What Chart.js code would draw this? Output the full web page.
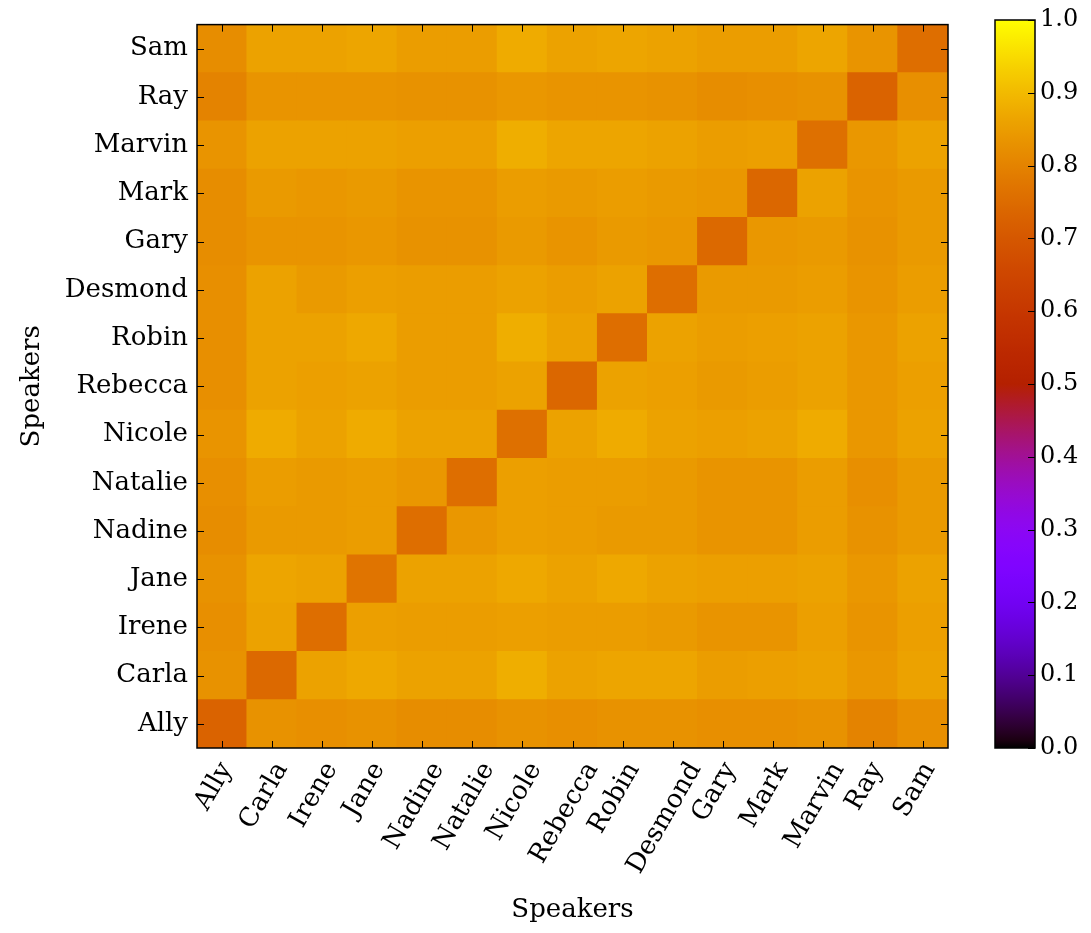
<!DOCTYPE html>
<html>
<head>
<meta charset="utf-8">
<script src="https://cdn.jsdelivr.net/npm/chart.js@4"></script>
<style>
  body { margin: 0; background: #fff; overflow: hidden; }
  #wrap { position: relative; width: 1091px; height: 933px; }
  canvas { position: absolute; top: 0; }
</style>
</head>
<body>
<div id="wrap">
  <canvas id="heat" width="1091" height="933" style="left:0"></canvas>
  <canvas id="cbar" width="141" height="933" style="left:950px"></canvas>
</div>
<script>
// speakers, same order on both axes (Ally at bottom / left)
const speakers = ["Ally", "Carla", "Irene", "Jane", "Nadine", "Natalie", "Nicole",
  "Rebecca", "Robin", "Desmond", "Gary", "Mark", "Marvin", "Ray", "Sam"];

// similarity values, one row per speaker (row 0 = Ally, bottom of the plot)
const values = [
  [.73, .83, .825, .83, .82, .82, .83, .825, .83, .83, .825, .825, .83, .80, .825],   // Ally
  [.83, .745, .86, .87, .86, .86, .88, .86, .865, .865, .85, .855, .86, .84, .86],    // Carla
  [.825, .86, .755, .855, .85, .85, .855, .85, .85, .845, .835, .835, .855, .835, .855], // Irene
  [.83, .865, .86, .77, .86, .86, .87, .86, .87, .86, .855, .855, .86, .84, .86],     // Jane
  [.82, .845, .845, .85, .755, .84, .855, .85, .845, .845, .835, .835, .85, .83, .845], // Nadine
  [.825, .85, .845, .85, .84, .755, .855, .85, .85, .845, .835, .835, .85, .825, .845], // Natalie
  [.835, .875, .86, .875, .86, .86, .76, .86, .875, .86, .855, .86, .875, .84, .86],  // Nicole
  [.825, .86, .855, .86, .85, .85, .86, .74, .86, .855, .845, .85, .86, .84, .855],   // Rebecca
  [.825, .86, .86, .87, .85, .85, .88, .86, .755, .86, .85, .855, .86, .84, .86],     // Robin
  [.825, .86, .845, .855, .85, .85, .86, .85, .86, .755, .845, .845, .85, .835, .85], // Desmond
  [.82, .835, .835, .84, .83, .83, .845, .835, .845, .84, .745, .84, .845, .83, .845], // Gary
  [.82, .845, .84, .845, .835, .835, .85, .845, .85, .845, .84, .74, .86, .835, .845], // Mark
  [.835, .86, .86, .86, .855, .855, .88, .865, .865, .86, .85, .855, .76, .84, .86],  // Marvin
  [.80, .835, .835, .835, .83, .83, .84, .835, .835, .83, .82, .825, .83, .73, .825], // Ray
  [.82, .86, .86, .865, .85, .85, .875, .86, .865, .86, .85, .85, .865, .835, .755]   // Sam
];

const cbarTicks = [0, 0.1, 0.2, 0.3, 0.4, 0.5, 0.6, 0.7, 0.8, 0.9, 1.0];

const FONT = "'DejaVu Serif', serif";
const FS = 26;

// matplotlib "gnuplot" colormap
function gnuplot(v) {
  const r = Math.sqrt(v), g = v * v * v, b = Math.max(0, Math.sin(2 * Math.PI * v));
  return `rgb(${Math.round(255 * r)},${Math.round(255 * g)},${Math.round(255 * b)})`;
}

// frame, inward ticks and centred rotated x labels
const heatFrame = {
  id: "heatFrame",
  afterDraw(chart) {
    const { ctx, chartArea: a, scales } = chart;
    ctx.save();
    ctx.strokeStyle = "#000";
    ctx.lineWidth = 1;
    speakers.forEach((_, i) => {
      const x = Math.round(scales.x.getPixelForValue(i)) + 0.5;
      const y = Math.round(scales.y.getPixelForValue(i + 0.5)) + 0.5;
      ctx.beginPath();
      ctx.moveTo(x, a.bottom); ctx.lineTo(x, a.bottom - 7);
      ctx.moveTo(x, a.top); ctx.lineTo(x, a.top + 7);
      ctx.moveTo(a.left, y); ctx.lineTo(a.left + 7, y);
      ctx.moveTo(a.right, y); ctx.lineTo(a.right - 7, y);
      ctx.stroke();
    });
    ctx.lineWidth = 1.5;
    ctx.strokeRect(a.left, a.top, a.right - a.left, a.bottom - a.top);

    const ang = 60 * Math.PI / 180;
    ctx.font = `${FS}px ${FONT}`;
    ctx.fillStyle = "#000";
    ctx.textAlign = "center";
    ctx.textBaseline = "middle";
    speakers.forEach((name, i) => {
      const w = ctx.measureText(name).width, h = FS * 1.05;
      const H = w * Math.sin(ang) + h * Math.cos(ang);
      const cx = scales.x.getPixelForValue(i) - 8;
      const cy = a.bottom + 10 + H / 2;
      ctx.save();
      ctx.translate(cx, cy);
      ctx.rotate(-ang);
      ctx.fillText(name, 0, 0);
      ctx.restore();
    });
    ctx.restore();
  }
};

new Chart(document.getElementById("heat"), {
  type: "bar",
  data: {
    labels: speakers,
    datasets: values.map((row, r) => ({
      data: row.map(() => [r, r + 1]),
      backgroundColor: row.map(gnuplot),
      borderWidth: 0,
      inflateAmount: 0.6,
      grouped: false,
      barPercentage: 1,
      categoryPercentage: 1
    }))
  },
  options: {
    responsive: false,
    animation: false,
    layout: { padding: { left: 0, top: 20, right: 143, bottom: 0 } },
    plugins: { legend: { display: false }, tooltip: { enabled: false } },
    scales: {
      x: {
        ticks: { display: false },
        grid: { display: false },
        border: { display: false },
        title: { display: true, text: "Speakers", color: "#000",
          font: { family: FONT, size: FS, lineHeight: 1.2 }, padding: { bottom: 7 } },
        afterFit: (s) => { s.height = 185; }
      },
      y: {
        min: 0, max: speakers.length,
        afterBuildTicks: (s) => { s.ticks = speakers.map((_, i) => ({ value: i + 0.5 })); },
        ticks: {
          autoSkip: false, padding: 9, color: "#000",
          font: { family: FONT, size: FS },
          callback: (v, i) => speakers[i]
        },
        grid: { display: false, drawTicks: false },
        border: { display: false },
        title: { display: true, text: "Speakers", color: "#000",
          font: { family: FONT, size: FS, lineHeight: 1.2 }, padding: { top: 17 } },
        afterFit: (s) => { s.width = 197; }
      }
    }
  },
  plugins: [heatFrame]
});

// colour bar
const cbarFrame = {
  id: "cbarFrame",
  afterDraw(chart) {
    const { ctx, chartArea: a, scales } = chart;
    ctx.save();
    ctx.strokeStyle = "#000";
    ctx.lineWidth = 1;
    cbarTicks.forEach((t) => {
      const y = Math.round(scales.y.getPixelForValue(t)) + 0.5;
      ctx.beginPath();
      ctx.moveTo(a.right, y); ctx.lineTo(a.right - 7, y);
      ctx.stroke();
    });
    ctx.lineWidth = 1.5;
    ctx.strokeRect(a.left, a.top, a.right - a.left, a.bottom - a.top);
    ctx.restore();
  }
};

new Chart(document.getElementById("cbar"), {
  type: "bar",
  data: {
    labels: [""],
    datasets: [{
      data: [[0, 1]],
      borderWidth: 0,
      barPercentage: 1,
      categoryPercentage: 1,
      backgroundColor: (c) => {
        const a = c.chart.chartArea;
        if (!a) return "#000";
        const g = c.chart.ctx.createLinearGradient(0, a.bottom, 0, a.top);
        for (let i = 0; i <= 100; i++) g.addColorStop(i / 100, gnuplot(i / 100));
        return g;
      }
    }]
  },
  options: {
    responsive: false,
    animation: false,
    layout: { padding: { left: 45, top: 20, right: 0, bottom: 185 } },
    plugins: { legend: { display: false }, tooltip: { enabled: false } },
    scales: {
      x: { display: false },
      y: {
        position: "right",
        min: 0, max: 1,
        afterBuildTicks: (s) => { s.ticks = cbarTicks.map((v) => ({ value: v })); },
        ticks: { padding: 5, color: "#000", font: { family: FONT, size: 24 },
          callback: (v) => v.toFixed(1) },
        grid: { display: false, drawTicks: false },
        border: { display: false },
        afterFit: (s) => { s.width = 56; }
      }
    }
  },
  plugins: [cbarFrame]
});
</script>
</body>
</html>
